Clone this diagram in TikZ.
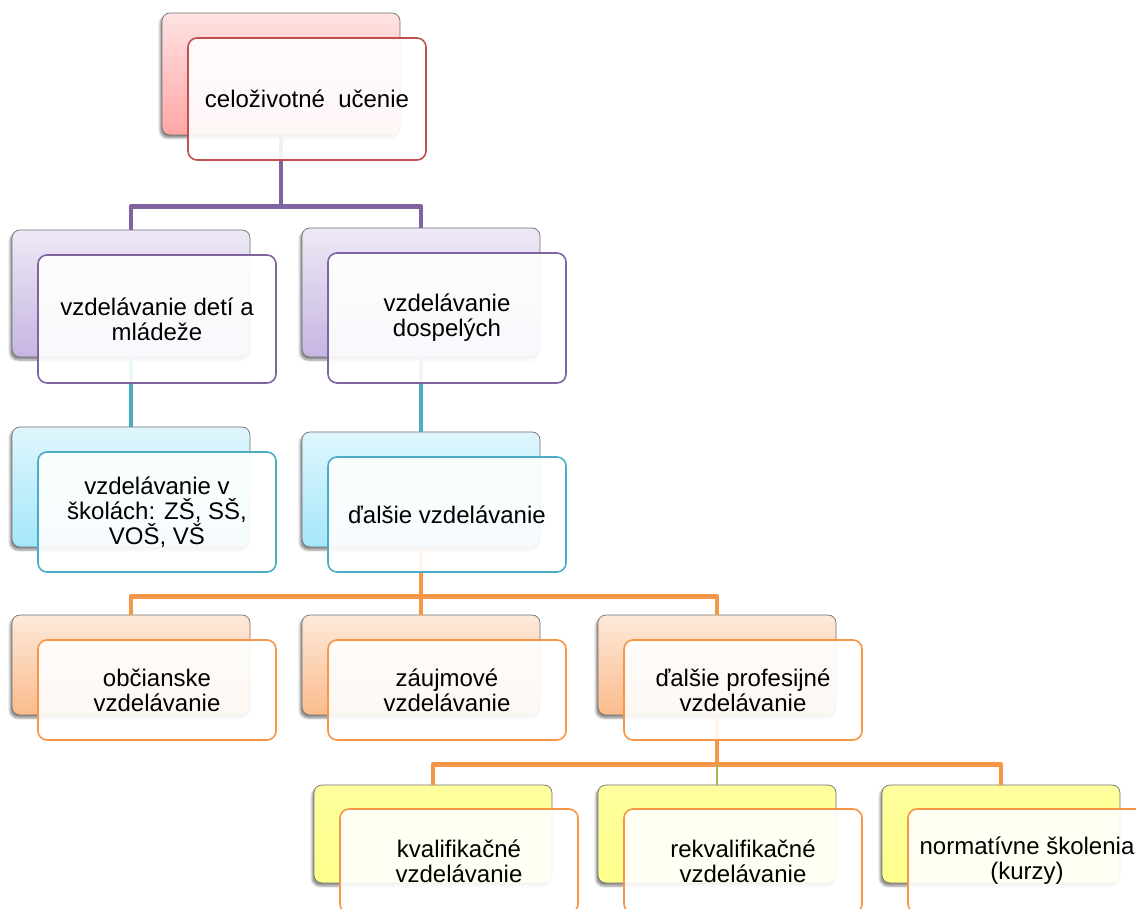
\documentclass[tikz,border=0pt]{standalone}
\usepackage{fontspec}
\setmainfont{Liberation Sans}
\usetikzlibrary{shadows.blur}

% box colours
\definecolor{redline}{HTML}{C0504D}
\definecolor{purpleline}{HTML}{8064A2}
\definecolor{cyanline}{HTML}{4BACC6}
\definecolor{orangeline}{HTML}{F79646}
\definecolor{greenline}{HTML}{9BBB59}
\definecolor{pinkTop}{HTML}{FFE2E2}
\definecolor{pinkBot}{HTML}{FFA6A6}
\definecolor{purpleTop}{HTML}{EEE9F6}
\definecolor{purpleBot}{HTML}{C6B5E1}
\definecolor{cyanTop}{HTML}{E0F6FD}
\definecolor{cyanBot}{HTML}{A4E7FA}
\definecolor{orangeTop}{HTML}{FDE9DA}
\definecolor{orangeBot}{HTML}{FBBB8C}
\definecolor{yellowTop}{HTML}{FFFF9E}
\definecolor{yellowBot}{HTML}{FFFF8C}
\definecolor{backedge}{HTML}{707070}

\tikzset{
  backbox/.style={rounded corners=8pt, draw=backedge, line width=0.7pt,
    minimum width=238pt, inner sep=0pt,
    blur shadow={shadow xshift=-2pt, shadow yshift=-3pt,
      shadow blur steps=6, shadow opacity=45}},
  frontbox/.style={rounded corners=9pt, line width=1.6pt, fill=white,
    fill opacity=0.9, text opacity=1, minimum width=238pt, inner sep=0pt,
    align=center, font=\fontsize{24pt}{25pt}\selectfont},
  conn/.style={line width=4.5pt, line join=round},
}

\begin{document}
\begin{tikzpicture}[x=1pt, y=-1pt]
\useasboundingbox (0,0) rectangle (1136,909);

% ---- back boxes ----
\node[backbox, minimum height=122pt, top color=pinkTop, bottom color=pinkBot] (b0) at (281,74) {};
\node[backbox, minimum height=127pt, top color=purpleTop, bottom color=purpleBot] (b1) at (131,293.5) {};
\node[backbox, minimum height=129pt, top color=purpleTop, bottom color=purpleBot] (b2) at (421,292.5) {};
\node[backbox, minimum height=120pt, top color=cyanTop, bottom color=cyanBot] (c1) at (131,487) {};
\node[backbox, minimum height=115pt, top color=cyanTop, bottom color=cyanBot] (c2) at (421,489.5) {};
\node[backbox, minimum height=100pt, top color=orangeTop, bottom color=orangeBot] (o1) at (131,665) {};
\node[backbox, minimum height=100pt, top color=orangeTop, bottom color=orangeBot] (o2) at (421,665) {};
\node[backbox, minimum height=100pt, top color=orangeTop, bottom color=orangeBot] (o3) at (717,665) {};
\node[backbox, minimum height=98pt, top color=yellowTop, bottom color=yellowBot] (y1) at (433,834) {};
\node[backbox, minimum height=98pt, top color=yellowTop, bottom color=yellowBot] (y2) at (717,834) {};
\node[backbox, minimum height=98pt, top color=yellowTop, bottom color=yellowBot] (y3) at (1001,834) {};

% ---- connectors ----
\draw[conn, purpleline] (b0.south) -- ++(0,71) coordinate (j0) -| (b1.north);
\draw[conn, purpleline] (j0) -| (b2.north);
\draw[conn, cyanline] (b1.south) -- (c1.north);
\draw[conn, cyanline] (b2.south) -- (c2.north);
\draw[conn, orangeline] (c2.south) -- ++(0,49) coordinate (j1) -| (o1.north);
\draw[conn, orangeline] (j1) -- (o2.north);
\draw[conn, orangeline] (j1) -| (o3.north);
\draw[conn, orangeline] (o3.south) -- ++(0,49) coordinate (j2) -| (y1.north);
\draw[conn, orangeline] (j2) -| (y3.north);
\draw[line width=1.2pt, greenline] (j2) -- (y2.north);

% ---- front boxes with text ----
\node[frontbox, draw=redline, minimum height=122pt] (f0) at (307,99) {celoživotné\ \ učenie};
\node[frontbox, draw=purpleline, minimum height=128pt] (f1) at (157,319) {vzdelávanie detí a\\mládeže};
\node[frontbox, draw=purpleline, minimum height=130pt] (f2) at (447,318) {vzdelávanie\\dospelých};
\node[frontbox, draw=cyanline, minimum height=120pt] (g1) at (157,512) {vzdelávanie v\\školách: ZŠ, SŠ,\\VOŠ, VŠ};
\node[frontbox, draw=cyanline, minimum height=115pt] (g2) at (447,514.5) {ďalšie vzdelávanie};
\node[frontbox, draw=orangeline, minimum height=100pt] (p1) at (157,690) {občianske\\vzdelávanie};
\node[frontbox, draw=orangeline, minimum height=100pt] (p2) at (447,690) {záujmové\\vzdelávanie};
\node[frontbox, draw=orangeline, minimum height=100pt] (p3) at (743,690) {ďalšie profesijné\\vzdelávanie};
\node[frontbox, draw=orangeline, minimum height=104pt] (q1) at (459,861) {kvalifikačné\\vzdelávanie};
\node[frontbox, draw=orangeline, minimum height=104pt] (q2) at (743,861) {rekvalifikačné\\vzdelávanie};
\node[frontbox, draw=orangeline, minimum height=104pt] (q3) at (1027,861) {normatívne školenia\\(kurzy)};
\end{tikzpicture}
\end{document}
